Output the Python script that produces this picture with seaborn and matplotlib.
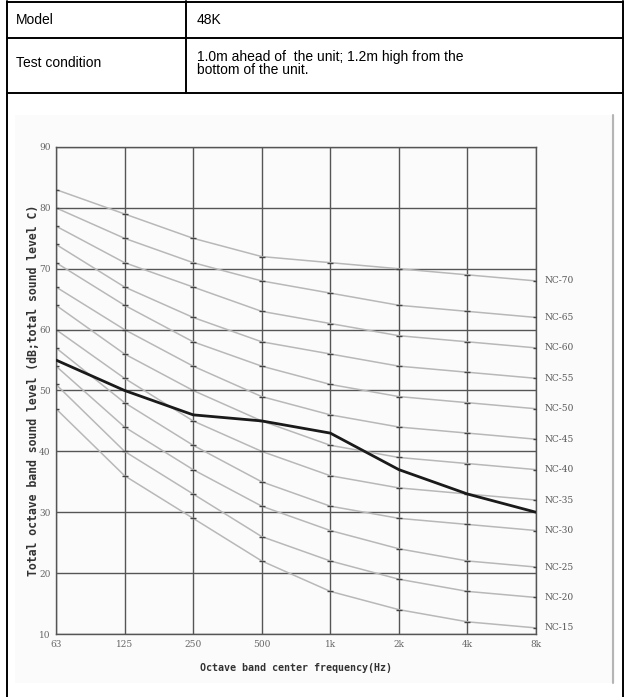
import numpy as np
import pandas as pd
import seaborn as sns
import matplotlib.pyplot as plt
from matplotlib.lines import Line2D
from matplotlib.patches import Rectangle

bands = ["63", "125", "250", "500", "1k", "2k", "4k", "8k"]
nc_names = ["NC-15", "NC-20", "NC-25", "NC-30", "NC-35", "NC-40",
            "NC-45", "NC-50", "NC-55", "NC-60", "NC-65", "NC-70"]
nc15 = [47, 36, 29, 22, 17, 14, 12, 11]
nc20 = [51, 40, 33, 26, 22, 19, 17, 16]
nc25 = [54, 44, 37, 31, 27, 24, 22, 21]
nc30 = [57, 48, 41, 35, 31, 29, 28, 27]
nc35 = [60, 52, 45, 40, 36, 34, 33, 32]
nc40 = [64, 56, 50, 45, 41, 39, 38, 37]
nc45 = [67, 60, 54, 49, 46, 44, 43, 42]
nc50 = [71, 64, 58, 54, 51, 49, 48, 47]
nc55 = [74, 67, 62, 58, 56, 54, 53, 52]
nc60 = [77, 71, 67, 63, 61, 59, 58, 57]
nc65 = [80, 75, 71, 68, 66, 64, 63, 62]
nc70 = [83, 79, 75, 72, 71, 70, 69, 68]
measured = [55, 50, 46, 45, 43, 37, 33, 30]
y_ticks = [10, 20, 30, 40, 50, 60, 70, 80, 90]

nc_curves = [nc15, nc20, nc25, nc30, nc35, nc40, nc45, nc50, nc55, nc60, nc65, nc70]
rows = []
for name, vals in zip(nc_names, nc_curves):
    for i, v in enumerate(vals):
        rows.append({"curve": name, "pos": i, "level": v})
nc_df = pd.DataFrame(rows)
meas_df = pd.DataFrame({"pos": range(len(bands)), "level": measured})

sns.set_style("white")
W, H = 628, 697
fig = plt.figure(figsize=(W / 100, H / 100), dpi=100)

# table frame
def fline(x0, y0, x1, y1, **kw):
    fig.add_artist(Line2D([x0 / W, x1 / W], [1 - y0 / H, 1 - y1 / H], **kw))

# embedded picture background
fig.add_artist(Rectangle((15 / W, 1 - 683 / H), 600 / W, (683 - 115) / H,
                         facecolor="#fbfbfb", edgecolor="none", zorder=0))
fline(613, 115, 613, 683, color="#b5b5b5", lw=1.5)

lk = dict(color="black", lw=1.4)
fline(7, 1.5, 623, 1.5, **lk)
fline(7, 38, 623, 38, **lk)
fline(7, 93, 623, 93, **lk)
fline(7, 1, 7, 697, **lk)
fline(623, 1, 623, 697, **lk)
fline(186, 1, 186, 93, **lk)

tf = dict(family="Liberation Sans", fontsize=10, color="black", va="center")
fig.text(16 / W, 1 - 20 / H, "Model", **tf)
fig.text(197 / W, 1 - 20 / H, "48K", **tf)
fig.text(16 / W, 1 - 63 / H, "Test condition", **tf)
fig.text(197 / W, 1 - 57 / H, "1.0m ahead of  the unit; 1.2m high from the", **tf)
fig.text(197 / W, 1 - 70 / H, "bottom of the unit.", **tf)

ax = fig.add_axes([56 / W, 1 - 634 / H, 480 / W, 487 / H])
ax.set_facecolor("none")

sns.lineplot(data=nc_df, x="pos", y="level", units="curve", estimator=None,
             color="#b8b8b8", lw=1.1, ax=ax, zorder=2)
# small tick dashes where the curves meet the band lines
sns.scatterplot(data=nc_df, x="pos", y="level", marker="_", s=22,
                linewidth=1.0, color="#444444", ax=ax, zorder=3, legend=False)
sns.lineplot(data=meas_df, x="pos", y="level", color="#1a1a1a", lw=2.0,
             ax=ax, zorder=4)

for name, vals in zip(nc_names, nc_curves):
    ax.text(len(bands) - 1 + 0.13, vals[-1], name, fontsize=6.5,
            family="DejaVu Serif", color="#555555", va="center", clip_on=False)

ax.set_xlim(0, len(bands) - 1)
ax.set_ylim(10, 90)
ax.set_xticks(range(len(bands)))
ax.set_xticklabels(bands)
ax.set_yticks(y_ticks)
ax.grid(True, color="#555555", lw=1.0)
ax.tick_params(length=0, labelsize=6.5, labelcolor="#666666", pad=4)
for lab in ax.get_xticklabels() + ax.get_yticklabels():
    lab.set_family("DejaVu Serif")
for sp in ax.spines.values():
    sp.set_color("#555555")
    sp.set_linewidth(1.0)

ax.set_xlabel("Octave band center frequency(Hz)", fontsize=7.2, family="DejaVu Sans Mono",
              fontweight="bold", color="#333333")
ax.set_ylabel("Total octave band sound level (dB;total sound level C)", fontsize=8.3,
              family="DejaVu Sans Mono", fontweight="bold", color="#333333")
ax.xaxis.set_label_coords(0.5, -0.060)
ax.yaxis.set_label_coords(-0.034, 0.5)

fig.savefig("out.png", dpi=100)
